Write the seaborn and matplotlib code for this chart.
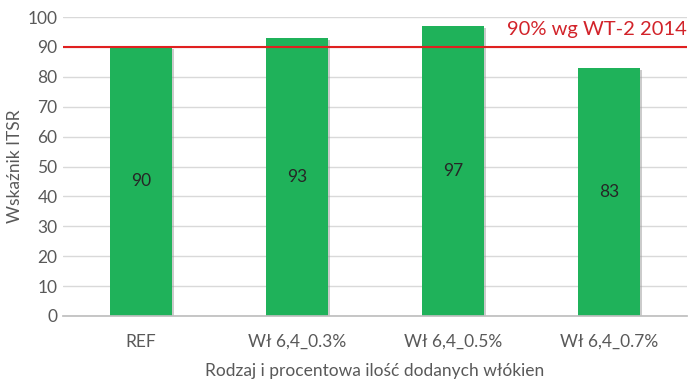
import matplotlib
matplotlib.use("Agg")
import matplotlib.pyplot as plt
import seaborn as sns
import pandas as pd
import matplotlib.patheffects as pe

categories = ["REF", "Wł 6,4_0.3%", "Wł 6,4_0.5%", "Wł 6,4_0.7%"]
values = [90, 93, 97, 83]
threshold = 90
threshold_label = "90% wg WT-2 2014"
y_ticks = [0, 10, 20, 30, 40, 50, 60, 70, 80, 90, 100]

sns.set_theme(style="white")
plt.rcParams['font.family'] = ['Lato', 'DejaVu Sans']

df = pd.DataFrame({"cat": categories, "val": values})

fig = plt.figure(figsize=(6.95, 3.91), dpi=100)
ax = fig.add_axes([63/695, 1-316/391, (687-63)/695, (316-17)/391])

sns.barplot(data=df, x="cat", y="val", color="#1FB25A", saturation=1, width=0.40,
            edgecolor="none", linewidth=0, ax=ax)
for p in ax.patches:
    p.set_path_effects([pe.SimplePatchShadow(offset=(1.5, -1.5), shadow_rgbFace="#999999", alpha=0.5), pe.Normal()])

gray = "#595959"
ax.set_ylim(0, 100)
ax.set_xlim(-0.5, len(categories) - 0.5)
ax.set_yticks(y_ticks)
ax.yaxis.grid(True, color="#d9d9d9", linewidth=1)
ax.set_axisbelow(True)
for s in ["top", "right", "left"]:
    ax.spines[s].set_visible(False)
ax.spines["bottom"].set_color("#bfbfbf")
ax.tick_params(axis="both", length=0, labelsize=12.5, colors=gray, pad=4)
ax.tick_params(axis="x", pad=13)

for i, v in enumerate(values):
    ax.text(i, v / 2, f"{v}", ha="center", va="center", fontsize=12.5, color="#262626")

ax.axhline(threshold, color="#E02020", linewidth=1.5, zorder=5)
ax.text(len(categories) - 0.5, threshold + 3.0, threshold_label, ha="right", va="bottom",
        fontsize=14.5, color="#D2232A")

ax.set_xlabel("Rodzaj i procentowa ilość dodanych włókien", fontsize=12.5, color=gray, labelpad=9)
ax.set_ylabel("Wskaźnik ITSR", fontsize=12.5, color=gray, labelpad=3)

fig.savefig("out.png", dpi=100)
